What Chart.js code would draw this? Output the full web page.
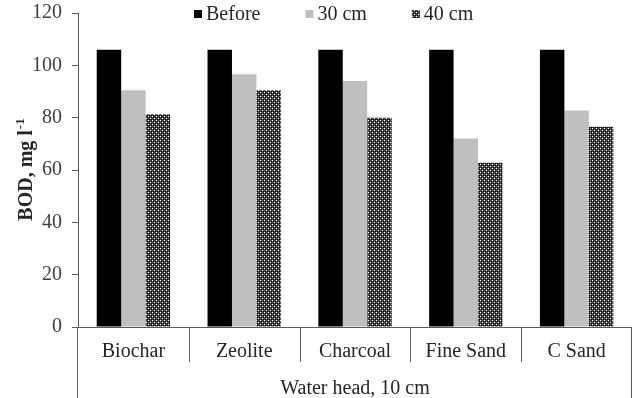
<!DOCTYPE html>
<html>
<head>
<meta charset="utf-8">
<script src="https://cdn.jsdelivr.net/npm/chart.js@4/dist/chart.umd.min.js"></script>
<style>
  html, body { margin: 0; padding: 0; background: #fff; }
  #wrap { width: 633px; height: 398px; position: relative; }
</style>
</head>
<body>
<div id="wrap"><canvas id="c" width="633" height="398"></canvas></div>
<script>
// ---- data ----
const categories = ['Biochar', 'Zeolite', 'Charcoal', 'Fine Sand', 'C Sand'];
const seriesNames = ['Before', '30 cm', '40 cm'];
const beforeValues = [106, 106, 106, 106, 106];
const cm30Values = [90.5, 96.6, 94.0, 72.0, 82.7];
const cm40Values = [81.3, 90.5, 80.0, 62.8, 76.5];
const yTickValues = [0, 20, 40, 60, 80, 100, 120];
const xGroupTitle = 'Water head, 10 cm';
const yTitleMain = 'BOD, mg l';
const yTitleSup = '-1';

// ---- styles ----
const FONT = "'Liberation Serif', 'Times New Roman', serif";
const AXIS_COLOR = '#595959';

function makePattern() {
  const t = document.createElement('canvas');
  t.width = 4; t.height = 4;
  const g = t.getContext('2d');
  g.fillStyle = '#4a4a4a'; g.fillRect(0, 0, 4, 4);
  g.fillStyle = '#ffffff';
  g.fillRect(0, 0, 1, 1); g.fillRect(2, 2, 1, 1);
  g.fillStyle = '#000000';
  g.fillRect(1, 1, 1, 1); g.fillRect(3, 3, 1, 1); g.fillRect(1, 3, 1, 1); g.fillRect(3, 1, 1, 1);
  return document.getElementById('c').getContext('2d').createPattern(t, 'repeat');
}
const pattern40 = makePattern();
const seriesColors = ['#000000', '#bfbfbf', pattern40];

const customAxes = {
  id: 'customAxes',
  afterDraw(chart) {
    const ctx = chart.ctx;
    const a = chart.chartArea;
    const H = chart.height;
    const n = categories.length;
    const cw = (a.right - a.left) / n;
    ctx.save();
    ctx.strokeStyle = AXIS_COLOR;
    ctx.lineWidth = 1;
    ctx.beginPath();
    ctx.moveTo(a.left, Math.round(a.bottom) + 0.5);
    ctx.lineTo(a.right, Math.round(a.bottom) + 0.5);
    ctx.moveTo(Math.round(a.left) - 0.5, a.bottom);
    ctx.lineTo(Math.round(a.left) - 0.5, H);
    ctx.moveTo(Math.round(a.right) - 0.5, a.bottom);
    ctx.lineTo(Math.round(a.right) - 0.5, H);
    for (let i = 1; i < n; i++) {
      const x = Math.round(a.left + i * cw) + 0.5;
      ctx.moveTo(x, a.bottom);
      ctx.lineTo(x, a.bottom + 35);
    }
    ctx.stroke();

    ctx.fillStyle = '#262626';
    ctx.font = '20px ' + FONT;
    ctx.textAlign = 'center';
    ctx.textBaseline = 'alphabetic';
    categories.forEach((c, i) => {
      ctx.fillText(c, a.left + (i + 0.5) * cw, a.bottom + 30);
    });
    ctx.fillText(xGroupTitle, (a.left + a.right) / 2, a.bottom + 67);

    ctx.save();
    ctx.translate(26, (a.top + a.bottom) / 2);
    ctx.rotate(-Math.PI / 2);
    ctx.font = 'bold 20px ' + FONT;
    const w1 = ctx.measureText(yTitleMain).width;
    ctx.font = 'bold 13px ' + FONT;
    const w2 = ctx.measureText(yTitleSup).width;
    const start = -(w1 + w2) / 2;
    ctx.textAlign = 'left';
    ctx.textBaseline = 'middle';
    ctx.font = 'bold 20px ' + FONT;
    ctx.fillText(yTitleMain, start, 1);
    ctx.font = 'bold 13px ' + FONT;
    ctx.fillText(yTitleSup, start + w1 + 1, -5);
    ctx.restore();

    ctx.font = '20px ' + FONT;
    ctx.textAlign = 'left';
    ctx.textBaseline = 'middle';
    let x = 194;
    const ly = 14;
    chart.data.datasets.forEach((ds) => {
      ctx.fillStyle = ds.backgroundColor;
      ctx.fillRect(x, ly - 4, 8, 8);
      ctx.fillStyle = '#262626';
      ctx.fillText(ds.label, x + 12, ly + 1);
      x += 12 + ctx.measureText(ds.label).width + 45;
    });
    ctx.restore();
  }
};

new Chart(document.getElementById('c'), {
  type: 'bar',
  data: {
    labels: categories,
    datasets: [
      { label: seriesNames[0], data: beforeValues, backgroundColor: seriesColors[0] },
      { label: seriesNames[1], data: cm30Values, backgroundColor: seriesColors[1] },
      { label: seriesNames[2], data: cm40Values, backgroundColor: seriesColors[2] }
    ]
  },
  options: {
    responsive: false,
    animation: false,
    events: [],
    layout: { padding: { top: 13, right: 1, bottom: 71, left: 0 } },
    plugins: { legend: { display: false }, tooltip: { enabled: false }, title: { display: false } },
    datasets: { bar: { categoryPercentage: 0.662, barPercentage: 1.0, borderWidth: 0 } },
    scales: {
      x: { display: false },
      y: {
        min: 0, max: 120,
        afterBuildTicks(scale) { scale.ticks = yTickValues.map(v => ({ value: v })); },
        afterFit(scale) { scale.width = 78; scale.paddingTop = 0; scale.paddingBottom = 0; },
        ticks: { font: { family: FONT, size: 20 }, color: '#404040', padding: 10 },
        grid: { drawOnChartArea: false, tickLength: 6, color: AXIS_COLOR },
        border: { color: AXIS_COLOR }
      }
    }
  },
  plugins: [customAxes]
});
</script>
</body>
</html>
